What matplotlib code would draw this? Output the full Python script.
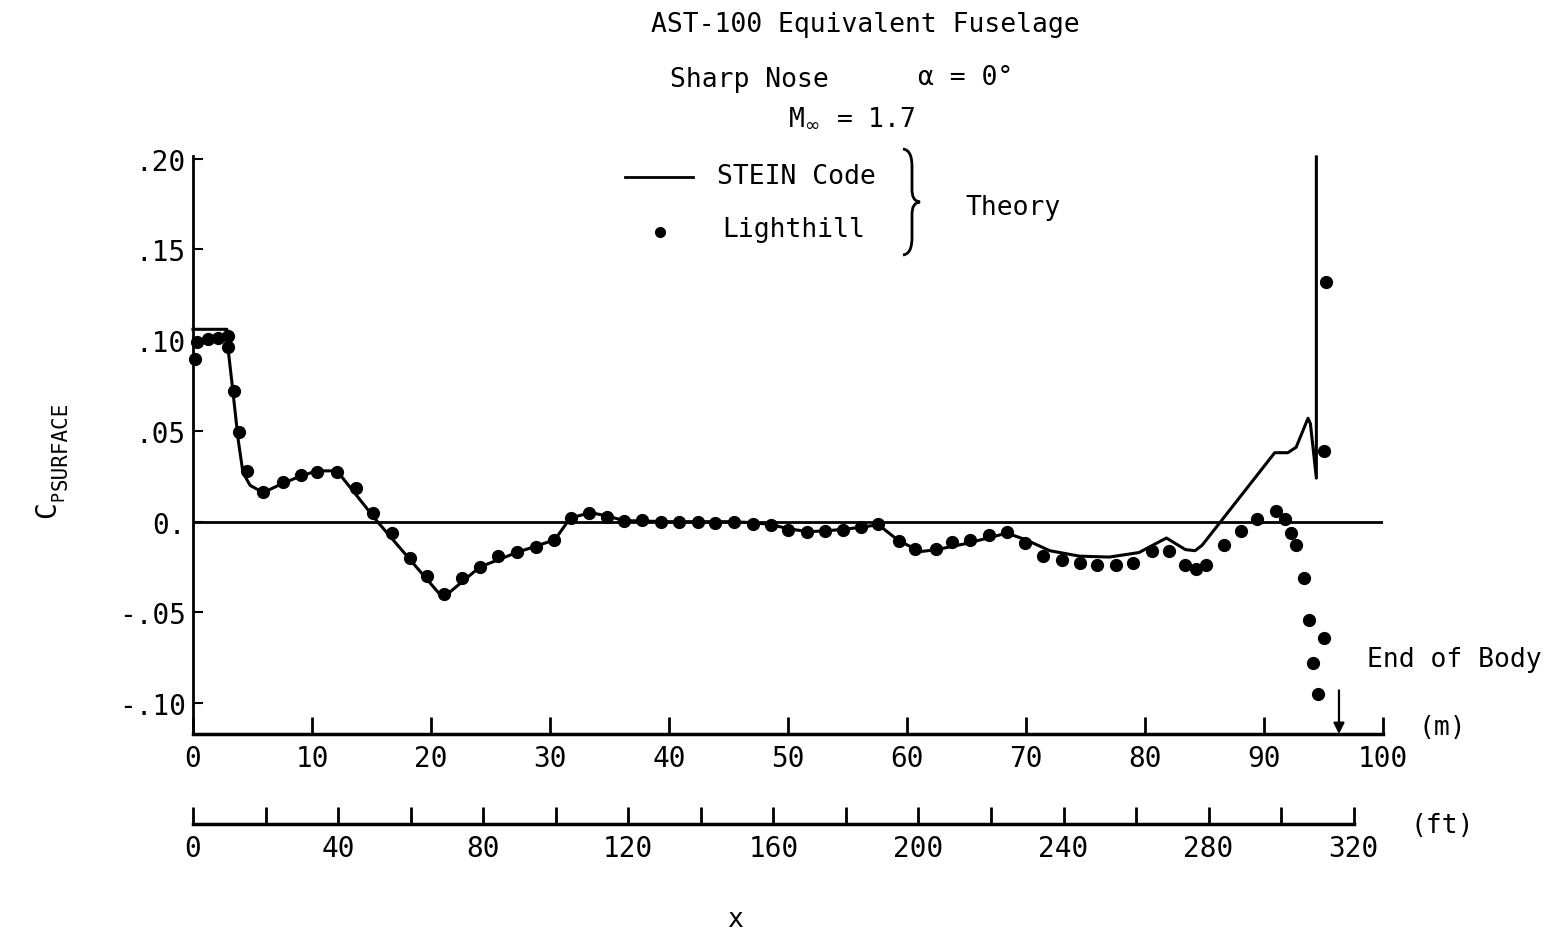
import matplotlib
matplotlib.use("Agg")
import matplotlib.pyplot as plt
from matplotlib.lines import Line2D
from matplotlib.path import Path
from matplotlib.patches import PathPatch

plt.rcParams['font.family'] = ['DejaVu Sans Mono', 'DejaVu Sans']

# ---- data ----
stein_x = [0, 2.85, 2.9, 3.3, 3.8, 4.2, 4.8, 5.9, 7.5, 9.0, 10.4, 12.1, 15.5, 21.0,
           24.1, 27.2, 30.4, 31.7, 33.4, 34.9, 36.2, 40.0, 45.0, 47.0, 48.5, 50.1,
           51.7, 53.3, 55.0, 56.4, 57.6, 59.3, 60.7, 61.1, 62.4, 65.0, 68.4, 70.0,
           72.0, 74.5, 77.0, 79.5, 81.8, 83.4, 84.2, 84.8, 90.9, 92.0, 92.7, 93.7,
           93.9, 94.4, 94.4]
stein_cp = [0.106, 0.106, 0.098, 0.075, 0.045, 0.027, 0.020, 0.016, 0.021, 0.025,
            0.028, 0.028, 0.0, -0.042, -0.025, -0.017, -0.010, 0.002, 0.005, 0.003,
            0.0006, 0.0, 0.0, -0.0005, -0.0015, -0.004, -0.0055, -0.005, -0.004,
            -0.0028, -0.0017, -0.0105, -0.015, -0.0165, -0.0155, -0.012, -0.0063,
            -0.010, -0.016, -0.019, -0.0195, -0.017, -0.0090, -0.0154, -0.016,
            -0.013, 0.038, 0.038, 0.041, 0.057, 0.054, 0.024, 0.201]

lighthill_x = [0.17, 0.34, 1.26, 2.1, 2.94, 2.94, 3.45, 3.87, 4.54, 5.88, 7.56, 9.08,
               10.4, 12.1, 13.7, 15.1, 16.7, 18.2, 19.7, 21.1, 22.6, 24.1, 25.6, 27.2,
               28.8, 30.3, 31.8, 33.3, 34.8, 36.2, 37.7, 39.3, 40.8, 42.4, 43.9, 45.5,
               47.1, 48.6, 50.0, 51.6, 53.1, 54.6, 56.1, 57.6, 59.3, 60.7, 62.4, 63.8,
               65.3, 66.9, 68.4, 69.9, 71.4, 73.0, 74.5, 76.0, 77.6, 79.0, 80.6, 82.0,
               83.4, 84.3, 85.1, 86.6, 88.1, 89.4, 91.0, 91.8, 92.3, 92.7, 93.4, 93.8,
               95.0, 94.1, 94.5, 95.0, 95.2]
lighthill_cp = [0.0897, 0.099, 0.1007, 0.1012, 0.1023, 0.0963, 0.072, 0.0495, 0.028,
                0.0165, 0.022, 0.0259, 0.0275, 0.0275, 0.0187, 0.005, -0.006, -0.0198,
                -0.030, -0.0396, -0.031, -0.0248, -0.0187, -0.0165, -0.0138, -0.0099,
                0.0022, 0.005, 0.0027, 0.0005, 0.0011, 0.0, 0.0, 0.0, -0.0005, 0.0,
                -0.0011, -0.0017, -0.0044, -0.0055, -0.005, -0.0044, -0.0028, -0.0011,
                -0.0105, -0.0149, -0.0149, -0.011, -0.0099, -0.0072, -0.0055, -0.0116,
                -0.0187, -0.0209, -0.0226, -0.0237, -0.0237, -0.0226, -0.016, -0.016,
                -0.024, -0.026, -0.024, -0.013, -0.005, 0.0017, 0.006, 0.0017, -0.006,
                -0.013, -0.031, -0.054, -0.064, -0.078, -0.095, 0.039, 0.132]

m_ticks = [0, 10, 20, 30, 40, 50, 60, 70, 80, 90, 100]
m_labels = ['0', '10', '20', '30', '40', '50', '60', '70', '80', '90', '100']
ft_major = [0, 40, 80, 120, 160, 200, 240, 280, 320]
ft_labels = ['0', '40', '80', '120', '160', '200', '240', '280', '320']
ft_minor = [20, 60, 100, 140, 180, 220, 260, 300]
y_ticks = [0.20, 0.15, 0.10, 0.05, 0.0, -0.05, -0.10]
y_labels = ['.20', '.15', '.10', '.05', '0.', '-.05', '-.10']
end_of_body_x = 96.3

W, H = 1555, 937
def fx(px):
    return px / W
def fy(py):
    return 1 - py / H

fig = plt.figure(figsize=(W / 100, H / 100), dpi=100)

# ---- main axes ----
ax = fig.add_axes([fx(193), fy(735), (1383 - 193) / W, (735 - 157) / H])
ax.set_xlim(0, 100)
ax.set_ylim(-0.117, 0.2015)
ax.patch.set_visible(False)
for s in ['top', 'right']:
    ax.spines[s].set_visible(False)
ax.spines['left'].set_linewidth(2)
ax.spines['bottom'].set_linewidth(2.5)

ax.axhline(0, color='black', lw=2)
ax.plot(stein_x, stein_cp, color='black', lw=2.2, clip_on=False, zorder=3)
ax.plot(lighthill_x, lighthill_cp, 'o', color='black', ms=8.5, clip_on=False, zorder=4)

ax.set_xticks(m_ticks)
ax.set_xticklabels(m_labels)
ax.set_yticks(y_ticks)
ax.set_yticklabels(y_labels)
ax.tick_params(axis='x', direction='in', length=12, width=2, labelsize=20, pad=7)
ax.tick_params(axis='y', direction='in', length=7, width=1.5, labelsize=20, pad=5)

ax.annotate('', xy=(end_of_body_x, -0.117), xytext=(end_of_body_x, -0.093),
            arrowprops=dict(arrowstyle='-|>', lw=1.6, color='black', mutation_scale=16,
                            shrinkA=0, shrinkB=0), annotation_clip=False)

# ---- ft axis ----
ax2 = fig.add_axes([fx(193), fy(825), (1383 - 193) / W, 0.001])
ax2.set_xlim(0, 100 / 0.3048)
ax2.patch.set_visible(False)
for s in ['top', 'right', 'left']:
    ax2.spines[s].set_visible(False)
ax2.spines['bottom'].set_linewidth(2.5)
ax2.spines['bottom'].set_bounds(0, 320)
ax2.set_yticks([])
ax2.set_xticks(ft_major)
ax2.set_xticklabels(ft_labels)
ax2.set_xticks(ft_minor, minor=True)
ax2.tick_params(axis='x', which='both', direction='in', length=12, width=2,
                labelsize=20, pad=7)

# ---- texts ----
fig.text(fx(865), fy(25), 'AST-100 Equivalent Fuselage', ha='center', va='center', fontsize=19)
fig.text(fx(670), fy(80), 'Sharp Nose', ha='left', va='center', fontsize=19)
fig.text(fx(918), fy(78), 'α = 0°', ha='left', va='center', fontsize=19)
fig.text(fx(788), fy(118), r'M$_{\infty}$ = 1.7', ha='left', va='center', fontsize=19)

fig.add_artist(Line2D([fx(625), fx(693)], [fy(178), fy(178)], color='black', lw=2))
fig.text(fx(717), fy(177), 'STEIN Code', ha='left', va='center', fontsize=19)
fig.add_artist(Line2D([fx(660)], [fy(233)], marker='o', color='black', ms=7, lw=0))
fig.text(fx(722), fy(230), 'Lighthill', ha='left', va='center', fontsize=19)
fig.text(fx(965), fy(208), 'Theory', ha='left', va='center', fontsize=19)

# brace
pts = [(903, 150), (910, 151), (912, 158), (912, 168),
       (912, 190),
       (912, 198), (914, 202), (920, 203),
       (914, 204), (912, 208), (912, 216),
       (912, 238),
       (912, 248), (910, 255), (903, 256)]
codes = [Path.MOVETO, Path.CURVE4, Path.CURVE4, Path.CURVE4,
         Path.LINETO,
         Path.CURVE4, Path.CURVE4, Path.CURVE4,
         Path.CURVE4, Path.CURVE4, Path.CURVE4,
         Path.LINETO,
         Path.CURVE4, Path.CURVE4, Path.CURVE4]
brace = Path([(fx(x), fy(y)) for x, y in pts], codes)
fig.add_artist(PathPatch(brace, transform=fig.transFigure, fill=False, lw=2, color='black'))

fig.text(fx(1367), fy(660), 'End of Body', ha='left', va='center', fontsize=19)
fig.text(fx(1418), fy(728), '(m)', ha='left', va='center', fontsize=19)
fig.text(fx(1410), fy(826), '(ft)', ha='left', va='center', fontsize=19)
fig.text(fx(735), fy(920), 'x', ha='center', va='center', fontsize=19)

# y label  C_P_SURFACE
fig.text(fx(47), fy(510), 'C', rotation=90, ha='center', va='center', fontsize=20)
fig.text(fx(58), fy(496), 'P', rotation=90, ha='center', va='center', fontsize=12)
fig.text(fx(61), fy(446), 'SURFACE', rotation=90, ha='center', va='center', fontsize=15)

fig.savefig('out.png', dpi=100)
